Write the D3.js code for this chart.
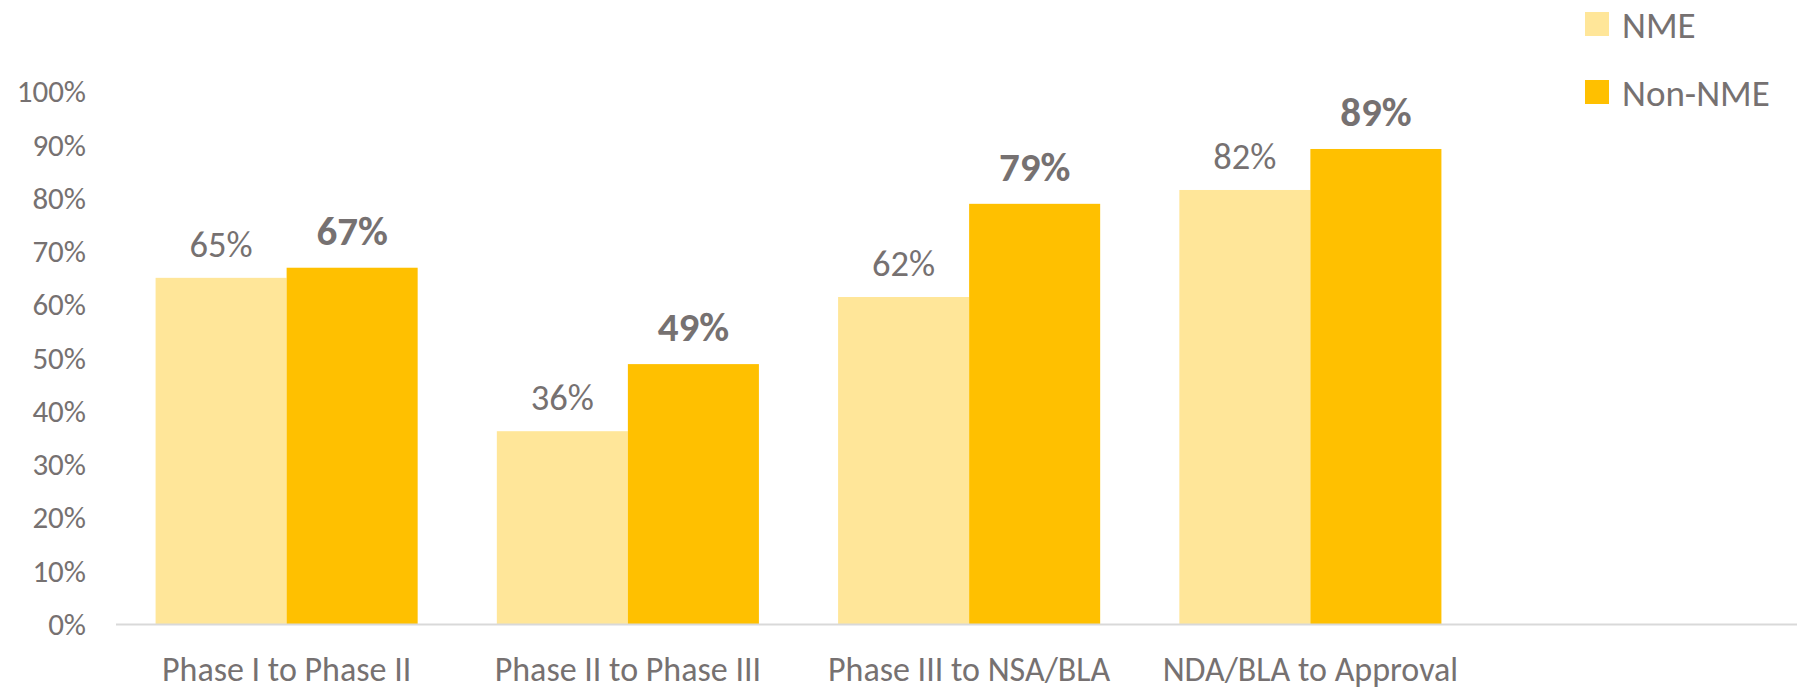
<!DOCTYPE html>
<html>
<head>
<meta charset="utf-8">
<script src="https://cdn.jsdelivr.net/npm/d3@7"></script>
<style>
  html, body { margin: 0; padding: 0; background: #fff; }
  svg { display: block; font-family: Carlito, Calibri, Lato, sans-serif; }
  .tick text { fill: #767171; }
</style>
</head>
<body>
<svg id="chart"></svg>
<script>
// ─── Data ─────────────────────────────────────────────────────────────
const categories = ["Phase I to Phase II", "Phase II to Phase III", "Phase III to NSA/BLA", "NDA/BLA to Approval"];
const seriesNames = ["NME", "Non-NME"];
const nmeValues = [0.651, 0.363, 0.615, 0.816];
const nonNmeValues = [0.670, 0.489, 0.790, 0.893];
const yTicks = [0, 0.1, 0.2, 0.3, 0.4, 0.5, 0.6, 0.7, 0.8, 0.9, 1.0];
const colors = ["#FFE699", "#FFC000"];

// ─── Layout ───────────────────────────────────────────────────────────
const W = 1797, H = 691;
const plot = { left: 116, right: 1481, top: 92, bottom: 624.5 };
const textColor = "#767171";
const catFont = 34;
const legendFont = 37;

const svg = d3.select("#chart").attr("width", W).attr("height", H);

const x = d3.scaleBand()
  .domain(categories)
  .range([plot.left, plot.right])
  .paddingInner(0.232)
  .paddingOuter(0.116);

const xInner = d3.scaleBand()
  .domain(seriesNames)
  .range([0, x.bandwidth()]);

const y = d3.scaleLinear().domain([0, 1]).range([plot.bottom, plot.top]);

const fmt = d3.format(".0%");

// rows for the grouped bars
const rows = categories.map((c, i) => ({
  category: c,
  values: [
    { series: seriesNames[0], value: nmeValues[i], color: colors[0], bold: false },
    { series: seriesNames[1], value: nonNmeValues[i], color: colors[1], bold: true }
  ]
}));

// y axis (labels only)
const yAxis = svg.append("g")
  .attr("transform", `translate(${plot.left},0)`)
  .call(d3.axisLeft(y).tickValues(yTicks).tickFormat(fmt).tickSize(0).tickPadding(30))
  .attr("font-family", null)
  .attr("font-size", 31);
yAxis.select(".domain").remove();

// bars
const groups = svg.append("g").selectAll("g")
  .data(rows)
  .join("g")
  .attr("transform", d => `translate(${x(d.category)},0)`);

groups.selectAll("rect")
  .data(d => d.values)
  .join("rect")
  .attr("x", d => xInner(d.series))
  .attr("y", d => y(d.value))
  .attr("width", xInner.bandwidth())
  .attr("height", d => y(0) - y(d.value))
  .attr("fill", d => d.color);

groups.selectAll("text")
  .data(d => d.values)
  .join("text")
  .attr("x", d => xInner(d.series) + xInner.bandwidth() / 2)
  .attr("y", d => y(d.value) - (d.bold ? 23 : 21))
  .attr("text-anchor", "middle")
  .attr("fill", textColor)
  .attr("font-size", d => d.bold ? 41 : 36.5)
  .attr("font-weight", d => d.bold ? "bold" : "normal")
  .text(d => fmt(d.value));

// x axis — baseline around y=681
const xAxis = svg.append("g")
  .attr("transform", `translate(0,${plot.bottom})`)
  .call(d3.axisBottom(x).tickSize(0).tickPadding(56.5 - 0.71 * catFont))
  .attr("font-family", null)
  .attr("font-size", catFont);
xAxis.select(".domain").remove();

svg.append("line")
  .attr("x1", plot.left).attr("x2", W)
  .attr("y1", plot.bottom).attr("y2", plot.bottom)
  .attr("stroke", "#D9D9D9")
  .attr("stroke-width", 2);

// legend
const legend = svg.append("g").attr("transform", "translate(1585,12)");
const items = legend.selectAll("g")
  .data(seriesNames)
  .join("g")
  .attr("transform", (d, i) => `translate(0,${i * 68})`);
items.append("rect")
  .attr("width", 24).attr("height", 24)
  .attr("fill", (d, i) => colors[i]);
items.append("text")
  .attr("x", 37).attr("y", 25.5)
  .attr("fill", textColor)
  .attr("font-size", legendFont)
  .text(d => d);
</script>
</body>
</html>
